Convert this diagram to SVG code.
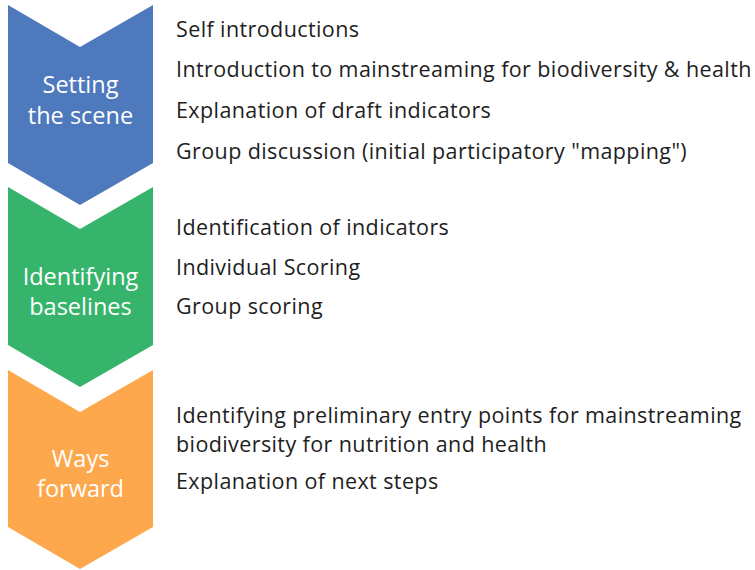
<svg xmlns="http://www.w3.org/2000/svg" width="755" height="570" viewBox="0 0 755 570">
<style>
.item{font-family:"Open Sans","Noto Sans",sans-serif;font-size:21.5px;letter-spacing:0.4px;fill:#1e1e1e}
.lab{font-family:"Open Sans","Noto Sans",sans-serif;font-size:23.5px;fill:#ffffff;text-anchor:middle}
</style>
<rect width="755" height="570" fill="#ffffff"/>
<g id="step1">
<path d="M8,5 L80,47 L153,5 L153,163 L80,205 L8,163 Z" fill="#4f79bd"/>
<text class="lab" x="80.5" y="93">Setting</text>
<text class="lab" x="80.5" y="124">the scene</text>
</g>
<g id="step2">
<path d="M8,187 L80,229 L153,187 L153,345 L80,387 L8,345 Z" fill="#37b46b"/>
<text class="lab" x="80.5" y="285">Identifying</text>
<text class="lab" x="80.5" y="315">baselines</text>
</g>
<g id="step3">
<path d="M8,370 L80,412 L153,370 L153,527 L80,569 L8,527 Z" fill="#fea84d"/>
<text class="lab" x="80.5" y="467">Ways</text>
<text class="lab" x="80.5" y="497">forward</text>
</g>
<g id="items1">
<text class="item" x="176" y="37">Self introductions</text>
<text class="item" x="176" y="77">Introduction to mainstreaming for biodiversity &amp; health</text>
<text class="item" x="176" y="118">Explanation of draft indicators</text>
<text class="item" x="176" y="159">Group discussion (initial participatory "mapping")</text>
</g>
<g id="items2">
<text class="item" x="176" y="235">Identification of indicators</text>
<text class="item" x="176" y="275">Individual Scoring</text>
<text class="item" x="176" y="314">Group scoring</text>
</g>
<g id="items3">
<text class="item" x="176" y="423">Identifying preliminary entry points for mainstreaming</text>
<text class="item" x="176" y="452">biodiversity for nutrition and health</text>
<text class="item" x="176" y="489">Explanation of next steps</text>
</g>
<g id="connectors"/>
</svg>
